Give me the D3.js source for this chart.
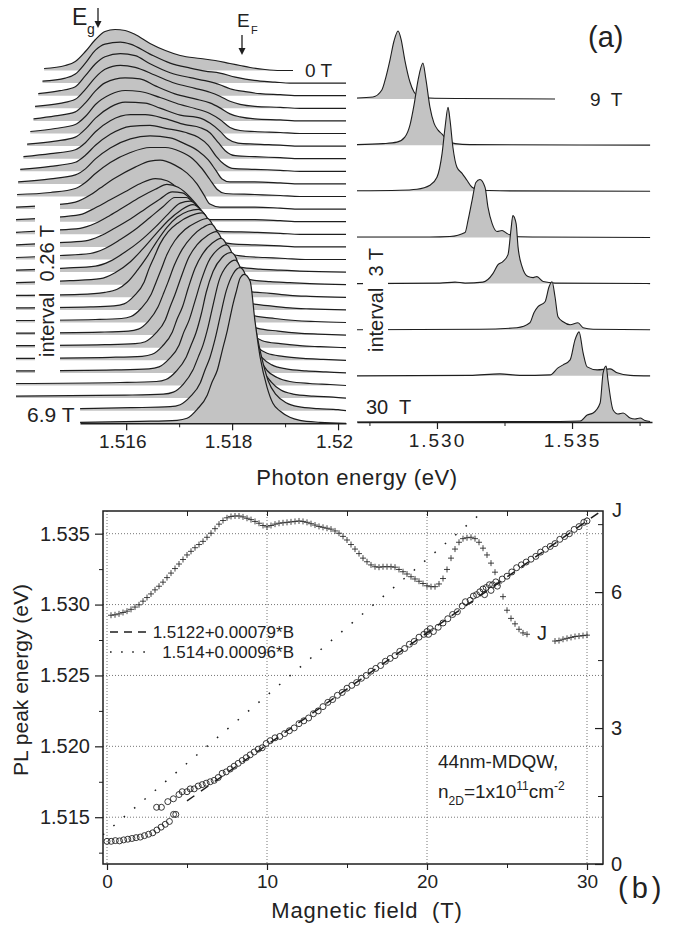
<!DOCTYPE html>
<html>
<head>
<meta charset="utf-8">
<script src="https://cdn.jsdelivr.net/npm/d3@7"></script>
<style>
  body { margin: 0; background: #fff; }
  text { font-family: "Liberation Sans", Arial, sans-serif; fill: #222; }
</style>
</head>
<body>
<div id="chart"></div>
<script>
// ---- panel (a) left: low field spectra, 0 T (top) to 6.9 T (bottom), [photon energy eV, intensity a.u.]
const spectraLow = [
 [[1.51445,2],[1.51485,5],[1.51504,9],[1.51523,19],[1.51542,31],[1.5156,39],[1.51579,41],[1.51598,40],[1.51617,36],[1.51645,27],[1.51674,20],[1.51702,15],[1.5174,12],[1.51768,10],[1.51796,7],[1.51815,5],[1.51834,3],[1.51862,1],[1.51891,0],[1.51915,0]],
 [[1.51442,2],[1.51485,5],[1.51504,9],[1.51523,20],[1.51542,33],[1.5156,39],[1.51589,41],[1.51608,39],[1.51645,29],[1.51683,20],[1.51721,15],[1.51749,12],[1.51777,10],[1.51806,6],[1.51825,4],[1.51853,2],[1.51881,1],[1.51909,0],[1.52015,0]],
 [[1.51434,2],[1.51475,5],[1.51504,9],[1.51523,20],[1.51542,32],[1.5156,39],[1.51589,42],[1.51617,40],[1.51645,32],[1.51683,23],[1.51721,18],[1.51749,15],[1.51777,11],[1.51796,7],[1.51825,4],[1.51853,2],[1.51891,1],[1.51928,0],[1.52015,0]],
 [[1.51428,2],[1.51475,5],[1.51504,9],[1.51523,19],[1.51542,31],[1.5156,39],[1.51589,43],[1.51617,41],[1.51655,33],[1.51692,25],[1.5173,20],[1.51758,16],[1.51777,12],[1.51796,7],[1.51815,4],[1.51843,2],[1.51891,1],[1.51928,0],[1.52015,0]],
 [[1.51425,2],[1.51466,5],[1.51504,9],[1.51523,18],[1.51542,30],[1.5156,38],[1.51598,43],[1.51626,42],[1.51655,35],[1.51692,27],[1.5173,22],[1.51758,18],[1.51777,13],[1.51796,7],[1.51815,4],[1.51843,2],[1.51891,1],[1.51928,0],[1.52015,0]],
 [[1.51419,2],[1.51466,5],[1.51504,9],[1.51523,17],[1.51542,29],[1.5157,39],[1.51598,43],[1.51626,42],[1.51664,36],[1.51702,29],[1.5173,25],[1.51758,20],[1.51777,14],[1.51796,6],[1.51815,3],[1.51843,2],[1.51891,1],[1.51928,0],[1.52015,0]],
 [[1.51413,2],[1.51466,5],[1.51504,9],[1.51523,17],[1.51542,28],[1.5157,39],[1.51598,44],[1.51636,43],[1.51664,38],[1.51702,31],[1.5174,28],[1.51758,23],[1.51777,15],[1.51792,7],[1.51811,3],[1.51843,2],[1.51891,1],[1.51928,0],[1.52015,0]],
 [[1.51406,2],[1.51457,5],[1.51504,9],[1.51523,16],[1.51542,27],[1.5157,38],[1.51608,44],[1.51636,44],[1.51674,40],[1.51711,34],[1.5174,31],[1.51758,26],[1.51774,16],[1.51787,8],[1.51806,3],[1.51843,2],[1.51891,1],[1.51928,0],[1.52015,0]],
 [[1.514,2],[1.51457,5],[1.51504,9],[1.51523,16],[1.51542,26],[1.5157,37],[1.51608,45],[1.51645,46],[1.51674,43],[1.51711,39],[1.51736,34],[1.51755,26],[1.5177,15],[1.51785,7],[1.518,3],[1.51843,2],[1.51891,1],[1.51928,0],[1.52015,0]],
 [[1.51396,2],[1.51457,5],[1.51504,9],[1.51523,15],[1.51542,25],[1.5157,36],[1.51608,45],[1.51645,48],[1.51683,46],[1.51711,40],[1.51736,33],[1.51755,24],[1.5177,13],[1.51781,5],[1.51796,2],[1.51843,2],[1.51891,1],[1.51928,0],[1.52015,0]],
 [[1.51394,2],[1.51457,4],[1.51504,8],[1.51523,14],[1.51542,23],[1.5157,34],[1.51608,44],[1.51645,49],[1.51674,49],[1.51702,45],[1.51725,38],[1.51743,28],[1.51758,17],[1.51772,7],[1.51787,3],[1.51843,2],[1.51891,1],[1.51928,0],[1.52015,0]],
 [[1.51392,2],[1.51457,4],[1.51504,7],[1.51532,14],[1.51551,21],[1.51579,31],[1.51617,42],[1.51645,48],[1.51664,49],[1.51692,44],[1.51715,36],[1.51734,25],[1.51747,14],[1.51758,5],[1.51777,2],[1.51843,2],[1.51891,1],[1.51928,0],[1.52015,0]],
 [[1.51392,2],[1.51457,4],[1.51513,7],[1.51542,14],[1.5157,22],[1.51598,30],[1.51626,38],[1.51655,43],[1.51677,41],[1.51696,34],[1.51717,23],[1.51734,13],[1.51747,5],[1.51758,2],[1.51843,2],[1.51891,1],[1.51928,0],[1.52015,0]],
 [[1.51392,2],[1.51457,4],[1.51513,6],[1.51542,11],[1.5157,19],[1.51598,28],[1.51626,37],[1.51655,45],[1.51677,50],[1.51698,47],[1.51721,37],[1.5174,25],[1.51755,13],[1.51766,6],[1.51777,3],[1.51843,2],[1.51891,1],[1.51928,0],[1.52015,0]],
 [[1.51392,2],[1.51466,4],[1.51523,6],[1.51551,11],[1.51579,19],[1.51608,28],[1.51636,38],[1.51664,48],[1.51687,55],[1.51706,54],[1.51725,46],[1.5174,37],[1.51755,26],[1.51768,14],[1.51781,6],[1.518,3],[1.51843,2],[1.51891,1],[1.51928,0],[1.52015,0]],
 [[1.51392,2],[1.51475,4],[1.51532,6],[1.5156,11],[1.51589,20],[1.51617,30],[1.51645,42],[1.5167,53],[1.51692,62],[1.51713,62],[1.5173,55],[1.51743,47],[1.51755,39],[1.51768,25],[1.51781,13],[1.51796,6],[1.51825,3],[1.51862,2],[1.519,1],[1.51938,0],[1.52015,0]],
 [[1.51392,2],[1.51485,4],[1.51542,6],[1.5157,11],[1.51598,20],[1.51626,31],[1.51655,45],[1.51679,58],[1.51702,69],[1.51721,71],[1.51736,65],[1.51747,58],[1.51755,51],[1.51768,35],[1.51781,20],[1.51796,10],[1.51815,5],[1.51853,3],[1.51891,2],[1.51928,1],[1.52015,0]],
 [[1.51392,2],[1.51494,4],[1.51551,6],[1.51579,12],[1.51608,23],[1.5163,35],[1.51655,50],[1.51679,64],[1.51702,74],[1.51726,80],[1.51742,74],[1.51755,63],[1.51768,45],[1.51781,28],[1.51796,15],[1.51811,8],[1.51834,5],[1.51872,3],[1.51909,2],[1.51947,1],[1.52015,0]],
 [[1.51392,2],[1.51513,3],[1.5156,5],[1.51583,8],[1.51602,15],[1.51621,27],[1.5164,41],[1.51658,56],[1.51677,70],[1.51696,80],[1.51717,86],[1.51736,88],[1.51747,84],[1.51758,73],[1.5177,55],[1.51783,35],[1.51796,20],[1.51811,11],[1.5183,6],[1.51872,4],[1.51909,2],[1.51947,1],[1.52015,0]],
 [[1.51392,2],[1.51532,3],[1.51577,4],[1.51596,6],[1.51615,14],[1.51634,28],[1.51643,41],[1.51653,53],[1.51664,66],[1.51679,78],[1.51698,87],[1.51721,94],[1.51743,97],[1.51753,92],[1.51762,80],[1.51772,60],[1.51783,38],[1.51796,22],[1.51811,12],[1.5183,7],[1.51872,4],[1.51909,2],[1.51947,1],[1.52015,0]],
 [[1.51392,2],[1.51542,3],[1.51591,4],[1.51609,6],[1.51628,14],[1.51647,28],[1.51657,41],[1.51666,53],[1.51677,68],[1.51692,82],[1.51711,93],[1.51732,100],[1.51753,104],[1.51762,99],[1.51772,85],[1.51781,63],[1.51792,40],[1.51806,23],[1.51821,12],[1.5184,7],[1.51881,4],[1.51919,2],[1.51957,1],[1.52015,0]],
 [[1.51392,2],[1.51551,3],[1.51604,4],[1.51623,6],[1.51642,14],[1.5166,28],[1.5167,41],[1.51679,53],[1.51691,70],[1.51706,86],[1.51725,99],[1.51743,107],[1.5176,111],[1.5177,105],[1.51779,90],[1.51789,67],[1.518,43],[1.51813,24],[1.51828,13],[1.51847,7],[1.51887,4],[1.51925,2],[1.51962,1],[1.52015,0]],
 [[1.51392,2],[1.5156,3],[1.51617,4],[1.51636,6],[1.51655,14],[1.51674,28],[1.51683,41],[1.51692,53],[1.51704,71],[1.51717,89],[1.51734,103],[1.51753,112],[1.5177,116],[1.51779,110],[1.51789,94],[1.51798,70],[1.51809,45],[1.51823,25],[1.51838,14],[1.51857,7],[1.51891,4],[1.51928,2],[1.51966,1],[1.52015,0]],
 [[1.51392,2],[1.5157,3],[1.5163,4],[1.51649,6],[1.51668,14],[1.51687,28],[1.51696,41],[1.51706,53],[1.51717,72],[1.5173,92],[1.51745,107],[1.51762,117],[1.51779,122],[1.51789,116],[1.51798,99],[1.51808,73],[1.51819,47],[1.51832,26],[1.51847,14],[1.51866,7],[1.51896,4],[1.51934,2],[1.51972,1],[1.52015,0]],
 [[1.51392,2],[1.51579,3],[1.51643,4],[1.51662,6],[1.51681,14],[1.517,28],[1.51709,41],[1.51719,53],[1.5173,72],[1.51742,93],[1.51755,111],[1.51772,123],[1.51789,128],[1.51798,122],[1.51808,104],[1.51817,77],[1.51828,49],[1.51842,27],[1.51857,15],[1.51875,8],[1.51902,4],[1.5194,2],[1.51977,1],[1.52015,0]],
 [[1.51392,2],[1.51589,3],[1.51657,4],[1.51675,6],[1.51694,14],[1.51713,28],[1.51723,41],[1.51732,53],[1.51742,72],[1.51751,93],[1.51764,114],[1.51781,128],[1.51798,133],[1.51808,127],[1.51817,108],[1.51826,80],[1.51838,51],[1.51851,28],[1.51866,15],[1.51885,8],[1.51909,4],[1.51947,2],[1.51985,1],[1.52015,0]],
 [[1.51392,2],[1.51598,3],[1.5167,4],[1.51689,6],[1.51708,14],[1.51726,28],[1.51736,41],[1.51745,53],[1.51755,72],[1.51764,93],[1.51775,117],[1.51791,133],[1.51806,138],[1.51815,131],[1.51825,112],[1.51834,83],[1.51845,53],[1.51858,29],[1.51874,16],[1.51892,8],[1.51915,4],[1.51953,2],[1.51991,1],[1.52015,0]],
 [[1.51513,2],[1.51608,3],[1.51683,4],[1.51702,6],[1.51721,14],[1.5174,28],[1.51749,41],[1.51758,53],[1.51768,72],[1.51777,93],[1.51789,120],[1.51802,137],[1.51815,143],[1.51825,136],[1.51834,116],[1.51843,86],[1.51855,55],[1.51868,30],[1.51883,16],[1.51902,8],[1.51925,4],[1.51962,2],[1.52,1],[1.52015,0]],
 [[1.51513,1],[1.51626,2],[1.51696,3],[1.51715,5],[1.51734,14],[1.51753,28],[1.51762,41],[1.51772,53],[1.51781,72],[1.51791,93],[1.51802,120],[1.51808,132],[1.51815,145],[1.51823,149],[1.51834,142],[1.51843,103],[1.51853,66],[1.51866,36],[1.51877,20],[1.51891,12],[1.51909,6],[1.51928,3],[1.51966,1],[1.52015,0]]
];

// ---- panel (a) right: high field spectra 9 T .. 30 T, 3 T apart
const highFields = [9, 12, 15, 18, 21, 24, 27, 30];
const spectraHigh = [
 [[1.52704,1],[1.52763,2],[1.52796,9],[1.52811,22],[1.52826,39],[1.52841,58],[1.52856,68],[1.52867,60],[1.52881,39],[1.529,17],[1.52915,7],[1.5293,3],[1.52974,1],[1.53085,0.5],[1.53437,0]],
 [[1.52704,0.5],[1.528,1.5],[1.52852,3],[1.52881,8],[1.529,20],[1.52915,40],[1.5293,65],[1.52948,82],[1.52959,66],[1.52974,38],[1.52989,22],[1.53004,15],[1.53019,11],[1.53037,5],[1.53067,1.5],[1.53122,0.5],[1.53789,0]],
 [[1.52704,0.5],[1.52863,1],[1.52926,2],[1.52974,6],[1.53,14],[1.53019,38],[1.5303,64],[1.53041,84],[1.53048,72],[1.53059,44],[1.53074,24],[1.53093,18],[1.53111,11],[1.5313,4],[1.53159,1],[1.53233,0.5],[1.53789,0]],
 [[1.52704,0.5],[1.52974,0.5],[1.53048,1],[1.53104,5],[1.53115,17],[1.5313,37],[1.53144,55],[1.53159,58],[1.53178,50],[1.53189,30],[1.53204,14],[1.53222,6],[1.53241,7],[1.53259,4],[1.53289,1],[1.53381,0.5],[1.53789,0]],
 [[1.52704,0],[1.53011,0.5],[1.53067,1.5],[1.53104,0.5],[1.5317,1.5],[1.53207,10],[1.53226,19],[1.53244,22],[1.53263,29],[1.53274,54],[1.53281,68],[1.53293,60],[1.533,37],[1.53315,17],[1.53337,7],[1.53356,6],[1.5337,7],[1.53393,2],[1.53437,0.5],[1.53789,0]],
 [[1.52704,0],[1.53159,0.5],[1.53296,2],[1.53344,7],[1.53359,17],[1.53374,23],[1.534,28],[1.53415,43],[1.53426,48],[1.53437,33],[1.53448,13],[1.53467,8],[1.53493,5],[1.53522,7],[1.53541,2],[1.53578,0.5],[1.53789,0]],
 [[1.52704,0],[1.53122,0.5],[1.53233,2],[1.53307,0.5],[1.53419,1],[1.53448,8],[1.53467,11],[1.53493,16],[1.53511,36],[1.53526,44],[1.53541,23],[1.53556,9],[1.53593,6],[1.53641,7],[1.53667,3],[1.53715,0.5],[1.53789,0]],
 [[1.52704,0],[1.53456,0.5],[1.5353,1],[1.53556,7],[1.53578,9],[1.53604,19],[1.53615,49],[1.53626,56],[1.53633,42],[1.53652,12],[1.5367,8],[1.53689,9],[1.53715,4],[1.53733,3],[1.53752,4],[1.5377,1.5],[1.53789,0.5]]
];

// ---- panel (b): PL peak energy (circles) [B (T), E (eV)]
const peakCircles = [
 [0,1.5133],[0.26,1.5133],[0.52,1.51335],[0.78,1.51333],[1.04,1.5134],[1.3,1.51345],[1.56,1.5135],[1.82,1.51356],[2.08,1.5136],[2.34,1.5137],[2.6,1.5138],[2.86,1.5139],[3.12,1.5141],[3.38,1.5143],[3.64,1.5145],[3.9,1.5147],[4.16,1.5152],[4.3,1.5152],
 [3.1,1.5157],[3.4,1.5157],[3.8,1.5161],[4.15,1.5163],[4.5,1.5166],[4.7,1.5168],[5,1.5168],[5.2,1.517],[5.45,1.517],[5.7,1.5172],[5.95,1.5173],[6.2,1.5174],[6.45,1.5175],[6.7,1.5176],[6.95,1.5178],[7.2,1.5181],[7.45,1.5182],[7.7,1.5184],[7.95,1.5186],[8.2,1.5188],[8.45,1.519],[8.7,1.5192],[8.95,1.5194],[9.2,1.5196],[9.45,1.5198],[9.7,1.5199],[9.95,1.5202],
 [10.2,1.5204],[10.5,1.5206],[10.8,1.5207],[11.1,1.5209],[11.4,1.5211],[11.7,1.5213],[12,1.5216],[12.3,1.5218],[12.6,1.522],[12.9,1.5223],[13.2,1.5225],[13.5,1.5228],[13.8,1.5231],[14.1,1.5233],[14.4,1.5236],[14.7,1.5238],[15,1.5241],[15.3,1.5243],[15.6,1.5245],[15.9,1.5248],[16.2,1.525],[16.5,1.5253],[16.8,1.5255],[17.1,1.5257],[17.4,1.526],[17.7,1.5262],[18,1.5264],[18.3,1.5267],[18.6,1.5269],[18.9,1.5272],[19.2,1.5274],[19.5,1.5277],[19.8,1.5279],[20,1.5281],[20.2,1.5283],[20.1,1.5279],[20.4,1.5281],[20.7,1.5284],[21,1.5287],[21.3,1.529],[21.6,1.5293],[21.9,1.5295],[22.2,1.5299],[22.4,1.5302],[22.7,1.5303],[22.9,1.5306],[23.1,1.5307],[23.3,1.5309],[23.5,1.5311],[23.7,1.5312],[23.9,1.5314],[24.1,1.5314],[24.3,1.5316],[23.6,1.5307],[24,1.531],[24.4,1.5313],[24.7,1.5318],[25,1.532],[25.3,1.5323],[25.6,1.5326],[25.9,1.5328],[26.2,1.533],[26.5,1.5332],[26.8,1.5334],[27.1,1.5337],[27.4,1.5339],[27.7,1.5341],[28,1.5343],[28.3,1.5346],[28.6,1.5348],[28.9,1.535],[29.2,1.5353],[29.5,1.5355],[29.8,1.5358],[30,1.5359]
];

// J (right axis), crosses [B (T), J]
const jCurve = [
 [0.25,5.49],[0.5,5.5],[0.75,5.52],[1,5.55],[1.25,5.58],[1.5,5.62],[1.75,5.67],[2,5.72],[2.25,5.8],[2.5,5.88],[2.75,5.96],[3,6.05],[3.25,6.13],[3.5,6.22],[3.75,6.32],[4,6.42],[4.25,6.52],[4.5,6.62],[4.75,6.72],[5,6.82],[5.25,6.9],[5.5,6.98],[5.75,7.05],[6,7.12],[6.25,7.21],[6.5,7.3],[6.75,7.4],[7,7.5],[7.25,7.58],[7.5,7.64],[7.75,7.67],[8,7.68],[8.25,7.68],[8.5,7.66],[8.75,7.63],[9,7.6],[9.25,7.56],[9.5,7.52],[9.75,7.47],[10,7.44],[10.25,7.47],[10.5,7.5],[10.75,7.52],[11,7.53],[11.25,7.54],[11.5,7.55],[11.75,7.56],[12,7.57],[12.25,7.56],[12.5,7.54],[12.75,7.51],[13,7.48],[13.25,7.45],[13.5,7.43],[13.75,7.41],[14,7.39],[14.25,7.35],[14.5,7.3],[14.75,7.23],[15,7.15],[15.25,7.05],[15.5,6.95],[15.75,6.85],[16,6.75],[16.25,6.67],[16.5,6.6],[16.75,6.56],[17,6.55],[17.25,6.56],[17.5,6.56],[17.75,6.56],[18,6.55],[18.25,6.5],[18.5,6.45],[18.75,6.4],[19,6.34],[19.25,6.29],[19.5,6.24],[19.75,6.19],[20,6.14],[20.25,6.12],[20.5,6.12],[20.75,6.18],[21,6.3],[21.25,6.5],[21.5,6.75],[21.75,6.95],[22,7.1],[22.25,7.18],[22.5,7.2],[22.75,7.21],[23,7.18],[23.25,7.1],[23.5,6.97],[23.75,6.82],[24,6.64],[24.25,6.44],[24.5,6.2],[24.75,5.9],[25,5.6],[25.25,5.42],[25.5,5.3],[25.75,5.18],[26,5.1],[26.25,5.07],
 [28,4.92],[28.25,4.93],[28.5,4.96],[28.75,4.98],[29,5],[29.25,5.02],[29.5,5.03],[29.75,5.04],[30,5.05]
];

// linear fits from the legend: intercept, slope, field range drawn
const fitLabels = ["1.5122+0.00079*B", "1.514+0.00096*B"];
const fitIntercepts = [1.5122, 1.514];
const fitSlopes = [0.00079, 0.00096];
const fitRanges = [[5, 31], [-0.25, 23.2]];

const lowTicks = [1.516, 1.518, 1.52];
const highTicks = [1.530, 1.535];
const fieldTicks = [0, 10, 20, 30];
const energyTicks = [1.515, 1.520, 1.525, 1.530, 1.535];
const jTicks = [0, 3, 6];


const svg = d3.select("#chart").append("svg")
  .attr("width", 686).attr("height", 925)
  .style("background", "#fff");

const FILL = "#c3c3c3", INK = "#1e1e1e";

// ================= panel (a) left =================
const xLow = d3.scaleLinear().domain([1.51392, 1.52015]).range([16, 346]);
const yLow = d3.scaleLinear().domain([0, 352.8]).range([423.3, 70.5]);
const lowStep = 12.6;

spectraLow.forEach((s, k) => {
  const off = (spectraLow.length - 1 - k) * lowStep;
  const area = d3.area().x(d => xLow(d[0])).y0(yLow(off)).y1(d => yLow(off + d[1])).curve(d3.curveMonotoneX);
  const line = d3.line().x(d => xLow(d[0])).y(d => yLow(off + d[1])).curve(d3.curveMonotoneX);
  svg.append("path").datum(s).attr("d", area).attr("fill", FILL);
  svg.append("path").datum(s).attr("d", line)
     .attr("fill", "none").attr("stroke", INK).attr("stroke-width", 1.2);
});

// gap behind the "interval 0.26 T" label
svg.append("rect").attr("x", 35).attr("y", 199).attr("width", 25).attr("height", 179).attr("fill", "#fff");
svg.append("text").attr("transform", "translate(54,291) rotate(-90)")
   .attr("text-anchor", "middle").style("font-size", "20px")
   .attr("xml:space", "preserve").text("interval  0.26 T");

svg.append("text").attr("x", 27).attr("y", 422).style("font-size", "21px").text("6.9 T");
svg.append("text").attr("x", 305).attr("y", 77).style("font-size", "19px")
   .attr("xml:space", "preserve").text("0 T");

// axis of the low field part
const xLowAxis = d3.scaleLinear().domain([xLow.invert(80), 1.52015]).range([80, 346]);
const gLow = svg.append("g").attr("transform", "translate(0,423.3)")
  .call(d3.axisBottom(xLowAxis).tickValues(lowTicks).tickSize(7).tickSizeOuter(0)
        .tickFormat(d => d === 1.52 ? "1.52" : d3.format(".3f")(d)));
gLow.select(".domain").attr("stroke", INK).attr("stroke-width", 1.6);
gLow.selectAll("line").attr("stroke", INK).attr("stroke-width", 1.2);
gLow.selectAll("text").style("font-size", "19px").attr("dx", -4).attr("y", 11);
const gLowMinor = svg.append("g").attr("transform", "translate(0,423.3)")
  .call(d3.axisBottom(xLowAxis).tickValues([1.517, 1.519]).tickSize(4).tickFormat(""));
gLowMinor.select(".domain").remove();
gLowMinor.selectAll("line").attr("stroke", INK);

// E_g and E_F markers
svg.append("text").attr("x", 72).attr("y", 25).style("font-size", "23px").text("E");
svg.append("text").attr("x", 87).attr("y", 34).style("font-size", "14px").text("g");
svg.append("line").attr("x1", 98).attr("x2", 98).attr("y1", 8).attr("y2", 22).attr("stroke", INK).attr("stroke-width", 1.3);
svg.append("path").attr("d", "M94.5,21L101.5,21L98,28Z").attr("fill", INK);
svg.append("text").attr("x", 237).attr("y", 27).style("font-size", "19px").text("E");
svg.append("text").attr("x", 251).attr("y", 34).style("font-size", "11px").text("F");
svg.append("line").attr("x1", 242).attr("x2", 242).attr("y1", 35).attr("y2", 49).attr("stroke", INK).attr("stroke-width", 1.3);
svg.append("path").attr("d", "M238.5,48L245.5,48L242,55Z").attr("fill", INK);

// ================= panel (a) right =================
const xHigh = d3.scaleLinear().domain([1.52704, 1.53796]).range([357, 652]);
const yHigh = d3.scaleLinear().domain([0, 323]).range([422, 99]);
const highStep = 46.14;

spectraHigh.forEach((s, k) => {
  const off = (spectraHigh.length - 1 - k) * highStep;
  const area = d3.area().x(d => xHigh(d[0])).y0(yHigh(off)).y1(d => yHigh(off + d[1])).curve(d3.curveMonotoneX);
  const line = d3.line().x(d => xHigh(d[0])).y(d => yHigh(off + d[1])).curve(d3.curveMonotoneX);
  svg.append("path").datum(s).attr("d", area).attr("fill", FILL);
  svg.append("path").datum(s).attr("d", line)
     .attr("fill", "none").attr("stroke", INK).attr("stroke-width", 1.1);
});

svg.append("rect").attr("x", 363).attr("y", 242).attr("width", 25).attr("height", 113).attr("fill", "#fff");
svg.append("text").attr("transform", "translate(383,300) rotate(-90)")
   .attr("text-anchor", "middle").style("font-size", "20px")
   .attr("xml:space", "preserve").text("interval  3 T");

svg.append("text").attr("x", 590).attr("y", 106).style("font-size", "19px")
   .attr("xml:space", "preserve").text(highFields[0] + "  T");
svg.append("text").attr("x", 366).attr("y", 414).style("font-size", "20px")
   .attr("xml:space", "preserve").text(highFields[highFields.length - 1] + "  T");
svg.append("text").attr("x", 588).attr("y", 47).style("font-size", "29px").text("(a)");

const gHigh = svg.append("g").attr("transform", "translate(0,422)")
  .call(d3.axisBottom(xHigh).tickValues(highTicks).tickSize(7).tickSizeOuter(0).tickFormat(d3.format(".3f")));
gHigh.select(".domain").attr("stroke", INK).attr("stroke-width", 1.6);
gHigh.selectAll("line").attr("stroke", INK).attr("stroke-width", 1.2);
gHigh.selectAll("text").style("font-size", "19px").style("letter-spacing", "2px").attr("y", 12);
const gHighMinor = svg.append("g").attr("transform", "translate(0,422)")
  .call(d3.axisBottom(xHigh).tickValues([1.5275, 1.5325, 1.5375]).tickSize(4).tickFormat(""));
gHighMinor.select(".domain").remove();
gHighMinor.selectAll("line").attr("stroke", INK);

svg.append("text").attr("x", 357).attr("y", 485).attr("text-anchor", "middle")
   .style("font-size", "22px").style("letter-spacing", "0.6px").text("Photon energy (eV)");

// ================= panel (b) =================
const xB = d3.scaleLinear().domain([-0.25, 31]).range([103, 603]);
const yB = d3.scaleLinear().domain([1.5117, 1.5366]).range([864, 511]);
const yJ = d3.scaleLinear().domain([0, 7.79]).range([864, 511]);

svg.append("clipPath").attr("id", "plotB").append("rect")
   .attr("x", 103).attr("y", 511).attr("width", 500).attr("height", 353);

// dotted grid
const grid = svg.append("g").attr("stroke", "#666").attr("stroke-width", 0.9).attr("stroke-dasharray", "1,2");
grid.selectAll(".h").data(energyTicks).enter().append("line")
    .attr("x1", 103).attr("x2", 603).attr("y1", d => yB(d)).attr("y2", d => yB(d));
grid.selectAll(".v").data(fieldTicks).enter().append("line")
    .attr("y1", 511).attr("y2", 864).attr("x1", d => xB(d)).attr("x2", d => xB(d));

const plot = svg.append("g").attr("clip-path", "url(#plotB)");

// fit lines
const fitDash = ["9,8", "1.6,12"];
fitIntercepts.forEach((a, i) => {
  const r = fitRanges[i];
  plot.append("line")
      .attr("x1", xB(r[0])).attr("y1", yB(a + fitSlopes[i] * r[0]))
      .attr("x2", xB(r[1])).attr("y2", yB(a + fitSlopes[i] * r[1]))
      .attr("stroke", INK).attr("stroke-width", 1.5).attr("stroke-dasharray", fitDash[i]);
});

// peak energy circles
plot.selectAll(".pk").data(peakCircles).enter().append("circle")
    .attr("cx", d => xB(d[0])).attr("cy", d => yB(d[1])).attr("r", 3)
    .attr("fill", "none").attr("stroke", "#222").attr("stroke-width", 0.9);

// J crosses
plot.selectAll(".jx").data(jCurve).enter().append("path")
    .attr("transform", d => "translate(" + xB(d[0]) + "," + yJ(d[1]) + ")")
    .attr("d", "M-3,0H3M0,-3V3").attr("stroke", "#222").attr("stroke-width", 0.85);

svg.append("rect").attr("x", 103).attr("y", 511).attr("width", 500).attr("height", 353)
   .attr("fill", "none").attr("stroke", INK).attr("stroke-width", 1.5);

// bottom axis
const gBx = svg.append("g").attr("transform", "translate(0,864)")
  .call(d3.axisBottom(xB).tickValues(fieldTicks).tickSize(6).tickSizeOuter(0));
gBx.select(".domain").remove();
gBx.selectAll("line").attr("stroke", INK).attr("stroke-width", 1.2);
gBx.selectAll("text").style("font-size", "19px").attr("y", 11);
const gBxMinor = svg.append("g").attr("transform", "translate(0,864)")
  .call(d3.axisBottom(xB).tickValues([5, 15, 25]).tickSize(4).tickFormat(""));
gBxMinor.select(".domain").remove();
gBxMinor.selectAll("line").attr("stroke", INK);
const gBtop = svg.append("g").attr("transform", "translate(0,511)")
  .call(d3.axisBottom(xB).tickValues([5, 10, 15, 20, 25, 30]).tickSize(5).tickFormat(""));
gBtop.select(".domain").remove();
gBtop.selectAll("line").attr("stroke", INK);

// left axis
const gBy = svg.append("g").attr("transform", "translate(103,0)")
  .call(d3.axisLeft(yB).tickValues(energyTicks).tickSize(8).tickPadding(5).tickFormat(d3.format(".3f")));
gBy.select(".domain").remove();
gBy.selectAll("line").attr("stroke", INK).attr("stroke-width", 1.2);
gBy.selectAll("text").style("font-size", "20px");
const gByMinor = svg.append("g").attr("transform", "translate(103,0)")
  .call(d3.axisLeft(yB).tickValues([1.5125, 1.5175, 1.5225, 1.5275, 1.5325]).tickSize(4).tickFormat(""));
gByMinor.select(".domain").remove();
gByMinor.selectAll("line").attr("stroke", INK);

// right axis (J), ticks inward
const gJ = svg.append("g").attr("transform", "translate(603,0)")
  .call(d3.axisRight(yJ).tickValues(jTicks).tickSize(-8).tickPadding(8));
gJ.select(".domain").remove();
gJ.selectAll("line").attr("stroke", INK).attr("stroke-width", 1.2);
gJ.selectAll("text").style("font-size", "20px");
const gJMinor = svg.append("g").attr("transform", "translate(603,0)")
  .call(d3.axisRight(yJ).tickValues([1.5, 4.5, 7.5]).tickSize(-5).tickFormat(""));
gJMinor.select(".domain").remove();
gJMinor.selectAll("line").attr("stroke", INK);
svg.append("text").attr("x", 612).attr("y", 517).style("font-size", "20px").text("J");
svg.append("text").attr("x", 537).attr("y", 640).style("font-size", "20px").text("J");

// legend
const legY = [632, 652];
const legDash = ["8,6", "1.6,9.5"];
fitLabels.forEach((t, i) => {
  svg.append("line").attr("x1", 110).attr("x2", 146).attr("y1", legY[i]).attr("y2", legY[i])
     .attr("stroke", INK).attr("stroke-width", 1.5).attr("stroke-dasharray", legDash[i]);
  svg.append("text").attr("x", 294).attr("y", legY[i] + 6).attr("text-anchor", "end")
     .style("font-size", "17px").text(t);
});

// sample annotation
svg.append("rect").attr("x", 432).attr("y", 749).attr("width", 152).attr("height", 24).attr("fill", "#fff");
svg.append("text").attr("x", 438).attr("y", 768).style("font-size", "19px").text("44nm-MDQW,");
const n2d = svg.append("text").attr("x", 438).attr("y", 798).style("font-size", "19px");
n2d.append("tspan").text("n");
n2d.append("tspan").attr("dy", 7).style("font-size", "12px").text("2D");
n2d.append("tspan").attr("dy", -7).text("=1x10");
n2d.append("tspan").attr("dy", -8).style("font-size", "12px").text("11");
n2d.append("tspan").attr("dy", 8).text("cm");
n2d.append("tspan").attr("dy", -8).style("font-size", "12px").text("-2");

// axis titles
svg.append("text").attr("transform", "translate(28,680) rotate(-90)").attr("text-anchor", "middle")
   .style("font-size", "21px").text("PL peak energy (eV)");
svg.append("text").attr("x", 367).attr("y", 918).attr("text-anchor", "middle")
   .style("font-size", "22px").style("letter-spacing", "0.8px")
   .attr("xml:space", "preserve").text("Magnetic field  (T)");
svg.append("text").attr("x", 618).attr("y", 898).style("font-size", "29px")
   .style("letter-spacing", "4px").text("(b)");
</script>
</body>
</html>
